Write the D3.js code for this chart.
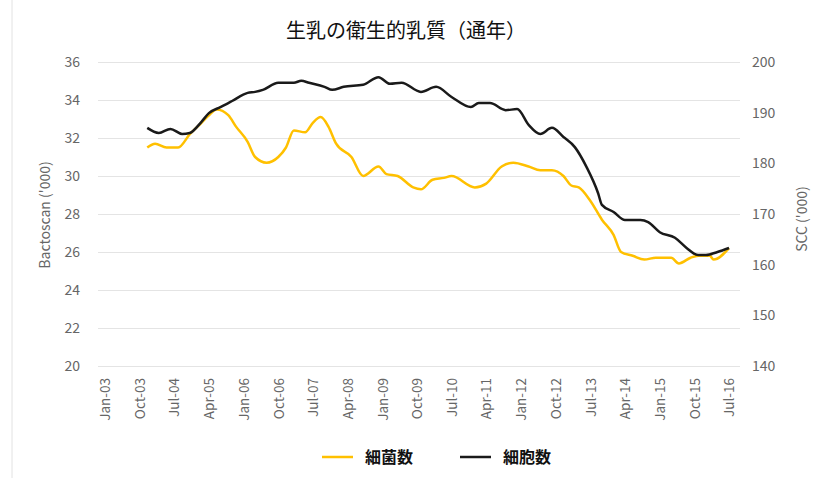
<!DOCTYPE html>
<html>
<head>
<meta charset="utf-8">
<script src="https://cdn.jsdelivr.net/npm/d3@7"></script>
<style>
  body { margin: 0; background: #fff; }
  text { font-family: "Noto Sans CJK JP", "Open Sans", sans-serif; }
</style>
</head>
<body>
<script>
//Chart texts
var title = "生乳の衛生的乳質（通年）";
var leftLabel = "Bactoscan ('000)";
var rightLabel = "SCC ('000)";
var seriesNames = ["細菌数", "細胞数"];

//Axis ticks
var leftTicks = [20, 22, 24, 26, 28, 30, 32, 34, 36];
var rightTicks = [140, 150, 160, 170, 180, 190, 200];
var xTickLabels = ["Jan-03", "Oct-03", "Jul-04", "Apr-05", "Jan-06", "Oct-06", "Jul-07",
  "Apr-08", "Jan-09", "Oct-09", "Jul-10", "Apr-11", "Jan-12", "Oct-12", "Jul-13",
  "Apr-14", "Jan-15", "Oct-15", "Jul-16"];

//Bactoscan (left axis) readings
var bactoMonths = ["Dec-03", "Feb-04", "May-04", "Aug-04", "Nov-04", "Feb-05", "Apr-05", "Jun-05",
  "Sep-05", "Nov-05", "Feb-06", "Apr-06", "Jul-06", "Oct-06", "Dec-06", "Feb-07", "May-07",
  "Jul-07", "Sep-07", "Nov-07", "Jan-08", "May-08", "Aug-08", "Dec-08", "Feb-09", "May-09",
  "Sep-09", "Nov-09", "Feb-10", "May-10", "Jul-10", "Jan-11", "Apr-11", "Aug-11", "Nov-11",
  "Mar-12", "Jun-12", "Sep-12", "Dec-12", "Feb-13", "Apr-13", "Jul-13", "Oct-13", "Jan-14",
  "Mar-14", "Jun-14", "Sep-14", "Dec-14", "Apr-15", "Jun-15", "Sep-15", "Nov-15", "Feb-16",
  "Mar-16", "Jul-16"];
var bactoValues = [31.5, 31.7, 31.5, 31.5, 32.2, 32.8, 33.2, 33.5,
  33.2, 32.6, 31.8, 31.0, 30.7, 31.0, 31.5, 32.4, 32.3,
  32.8, 33.1, 32.6, 31.7, 31.0, 30.0, 30.5, 30.1, 30.0,
  29.4, 29.3, 29.8, 29.9, 30.0, 29.4, 29.6, 30.5, 30.7,
  30.5, 30.3, 30.3, 30.0, 29.5, 29.4, 28.7, 27.7, 26.9,
  26.0, 25.8, 25.6, 25.7, 25.7, 25.4, 25.7, 25.8, 25.8,
  25.6, 26.2];

//SCC (right axis) readings
var sccMonths = ["Dec-03", "Mar-04", "Jun-04", "Sep-04", "Nov-04", "Feb-05", "Apr-05", "Jul-05",
  "Sep-05", "Oct-05", "Feb-06", "Apr-06", "Jun-06", "Oct-06", "Dec-06", "Feb-07", "Apr-07",
  "Jun-07", "Oct-07", "Dec-07", "Mar-08", "Aug-08", "Dec-08", "Mar-09", "Jun-09", "Nov-09",
  "Mar-10", "Jul-10", "Dec-10", "Feb-11", "May-11", "Sep-11", "Dec-11", "Mar-12", "Jun-12",
  "Sep-12", "Dec-12", "Mar-13", "Jun-13", "Sep-13", "Oct-13", "Jan-14", "Apr-14", "Aug-14",
  "Oct-14", "Jan-15", "May-15", "Aug-15", "Nov-15", "Jan-16", "Apr-16", "Jul-16"];
var sccValues = [187.0, 186.0, 186.8, 185.8, 186.0, 188.2, 189.9, 191.1,
  191.9, 192.3, 193.9, 194.1, 194.5, 195.9, 195.9, 195.9, 196.3,
  195.9, 195.1, 194.5, 195.1, 195.5, 197.0, 195.7, 195.9, 194.1,
  195.1, 193.1, 191.1, 191.9, 191.9, 190.5, 190.7, 187.6, 185.8,
  187.0, 185.2, 183.2, 179.3, 174.1, 171.8, 170.4, 168.8, 168.8,
  168.4, 166.4, 165.3, 163.3, 161.9, 161.9, 162.5, 163.3];

var colors = ["#FFC000", "#1a1a1a"];

//SVG size
var w = 821;
var h = 478;

//Plot area
var plot = {left: 98, right: 740, top: 62, bottom: 366};

var parseMonth = d3.timeParse("%b-%y");

var bactoData = bactoMonths.map(function (m, i) {
  return [parseMonth(m), bactoValues[i]];
});
var sccData = sccMonths.map(function (m, i) {
  return [parseMonth(m), sccValues[i]];
});

//Scales
var scaleX = d3.scaleTime()
  .domain([parseMonth("Jan-03"), parseMonth("Jul-16")])
  .range([105, 729]);

var scaleY = d3.scaleLinear()
  .domain([20, 36])
  .range([plot.bottom, plot.top]);

var scaleY2 = d3.scaleLinear()
  .domain([140, 200])
  .range([plot.bottom, plot.top]);

var svg = d3.select('body')
  .append('svg')
  .attr('width', w)
  .attr('height', h);

//Faint frame on the left
svg.append('line')
  .attr('x1', 12).attr('x2', 12)
  .attr('y1', 0).attr('y2', h)
  .attr('stroke', '#e2e2e2')
  .attr('stroke-width', 1);

//Gridlines
svg.append('g')
  .selectAll('line')
  .data(leftTicks)
  .enter()
  .append('line')
  .attr('x1', plot.left)
  .attr('x2', plot.right)
  .attr('y1', function (d) { return scaleY(d) + 0.5; })
  .attr('y2', function (d) { return scaleY(d) + 0.5; })
  .attr('stroke', '#e4e4e4')
  .attr('stroke-width', 1);

//Left axis
var leftAxis = svg.append('g')
  .attr('transform', 'translate(' + (plot.left - 8) + ',0)')
  .call(d3.axisLeft(scaleY).tickValues(leftTicks).tickSize(0).tickPadding(10));
leftAxis.select('.domain').remove();
leftAxis.selectAll('text')
  .attr('fill', '#666')
  .attr('font-size', '14px')
  .attr('font-family', '"Open Sans", sans-serif');

//Right axis
var rightAxis = svg.append('g')
  .attr('transform', 'translate(' + (plot.right + 2) + ',0)')
  .call(d3.axisRight(scaleY2).tickValues(rightTicks).tickSize(0).tickPadding(10));
rightAxis.select('.domain').remove();
rightAxis.selectAll('text')
  .attr('fill', '#666')
  .attr('font-size', '14px')
  .attr('font-family', '"Open Sans", sans-serif');

//Bottom axis, rotated month labels
var xTicks = xTickLabels.map(parseMonth);
var bottomAxis = svg.append('g')
  .attr('transform', 'translate(0,' + plot.bottom + ')')
  .call(d3.axisBottom(scaleX).tickValues(xTicks).tickFormat(d3.timeFormat("%b-%y")).tickSize(0));
bottomAxis.select('.domain').remove();
bottomAxis.selectAll('text')
  .attr('transform', 'rotate(-90)')
  .attr('text-anchor', 'end')
  .attr('x', -12)
  .attr('y', 0)
  .attr('dy', '0.35em')
  .attr('fill', '#666')
  .attr('font-size', '13.5px')
  .attr('font-family', '"Open Sans", sans-serif');

//Axis titles
svg.append('text')
  .text(leftLabel)
  .attr('transform', 'translate(50,215) rotate(-90)')
  .attr('text-anchor', 'middle')
  .attr('fill', '#666')
  .attr('font-size', '14px')
  .attr('font-family', '"Open Sans", sans-serif');

svg.append('text')
  .text(rightLabel)
  .attr('transform', 'translate(807,219) rotate(-90)')
  .attr('text-anchor', 'middle')
  .attr('fill', '#666')
  .attr('font-size', '14px')
  .attr('font-family', '"Open Sans", sans-serif');

//Lines
var bactoLine = d3.line()
  .x(function (d) { return scaleX(d[0]); })
  .y(function (d) { return scaleY(d[1]); })
  .curve(d3.curveMonotoneX);

var sccLine = d3.line()
  .x(function (d) { return scaleX(d[0]); })
  .y(function (d) { return scaleY2(d[1]); })
  .curve(d3.curveMonotoneX);

svg.append('path')
  .datum(bactoData)
  .attr('d', bactoLine)
  .attr('fill', 'none')
  .attr('stroke', colors[0])
  .attr('stroke-width', 2.5)
  .attr('stroke-linejoin', 'round');

svg.append('path')
  .datum(sccData)
  .attr('d', sccLine)
  .attr('fill', 'none')
  .attr('stroke', colors[1])
  .attr('stroke-width', 2.5)
  .attr('stroke-linejoin', 'round');

//Title
svg.append('text')
  .text(title)
  .attr('x', 406)
  .attr('y', 38)
  .attr('text-anchor', 'middle')
  .attr('fill', '#111')
  .attr('font-size', '20px');

//Legend
var legendX = [322, 460];
var legend = svg.selectAll('.legend')
  .data(seriesNames)
  .enter()
  .append('g')
  .attr('class', 'legend')
  .attr('transform', function (d, i) {
    return 'translate(' + legendX[i] + ',457)';
  });

legend.append('line')
  .attr('x1', 0).attr('x2', 31)
  .attr('y1', 0).attr('y2', 0)
  .attr('stroke', function (d, i) { return colors[i]; })
  .attr('stroke-width', 2.5);

legend.append('text')
  .text(function (d) { return d; })
  .attr('x', 43)
  .attr('y', 0)
  .attr('dy', '0.35em')
  .attr('fill', '#111')
  .attr('font-size', '16px')
  .attr('font-weight', 'bold');
</script>
</body>
</html>
